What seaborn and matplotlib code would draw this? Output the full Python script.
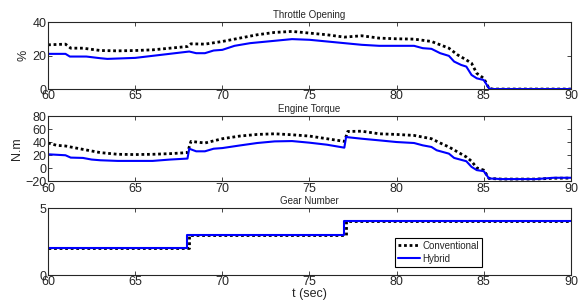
import numpy as np
import pandas as pd
import matplotlib
matplotlib.use("Agg")
import matplotlib.pyplot as plt
import seaborn as sns

# throttle opening (%)
thr_t_conv = [60, 61, 61.3, 62, 63, 64, 65, 66, 67, 68, 68.2, 69, 70, 71, 72, 73, 74, 75, 76, 77, 78,
              79, 80, 81, 82, 83, 83.5, 84, 84.3, 84.6, 85, 85.3, 85.5, 90]
thr_conv = [26.4, 26.8, 24.4, 24.4, 23, 22.8, 23, 23.4, 24.4, 25.4, 27, 26.8, 28.4, 30.4, 32.4, 33.8, 34.4,
            33.4, 32.4, 31, 31.8, 30.4, 30, 29.8, 28.4, 24.4, 20.4, 17.4, 15.4, 9.4, 6.4, 0.4, 0, 0]
thr_t_hyb = [60, 61, 61.25, 62.2, 63, 63.4, 65, 66.8, 68.1, 68.5, 69, 69.5, 70, 70.7, 71.6, 72.6, 73.6,
             74, 75, 76, 77, 78, 79, 80, 81, 81.5, 82, 82.5, 83, 83.3, 83.7, 84, 84.3, 84.6, 85, 85.3,
             85.5, 90]
thr_hyb = [21, 21, 19.4, 19.4, 18.4, 18, 18.6, 20.8, 22.4, 21.4, 21.4, 23, 23.4, 25.8, 27.4, 28.4, 29.4,
           29.8, 29.4, 28.4, 27.4, 26.4, 25.8, 25.8, 25.8, 24.4, 24, 21.4, 19.8, 16.4, 14.4, 13.4, 8.4,
           6.4, 5.4, 0.4, 0, 0]

# engine torque (N.m)
trq_t_conv = [60, 60.5, 61, 62, 63, 64, 65, 66, 67, 68, 68.2, 69, 70, 71, 72, 73, 74, 75, 76, 77,
              77.2, 78, 79, 80, 81, 82, 82.5, 83, 83.5, 84, 84.3, 84.6, 85, 85.3, 86, 88, 89, 90]
trq_conv = [38.8, 35.2, 34.2, 29, 24, 21.4, 21, 21.4, 22.4, 24, 41.3, 38.8, 45.4, 49.5, 52, 53, 51.5,
            49.5, 45.4, 41.3, 56.6, 57, 53, 52, 50.5, 45.4, 38.8, 32.7, 25, 17.3, 10.7, 0.5, -3, -15.8,
            -16.8, -16.8, -15.5, -15.3]
trq_t_hyb = [60, 61, 61.3, 62, 62.5, 63, 64, 65, 66, 67, 68, 68.1, 68.5, 69, 69.5, 70, 71, 72, 73, 74,
             75, 76, 77, 77.1, 78, 79, 80, 81, 81.5, 82, 82.3, 83, 83.3, 84, 84.3, 84.6, 85, 85.3, 86,
             88, 89, 90]
trq_hyb = [21.4, 19.9, 16.3, 15.8, 13.3, 12.2, 11.2, 11.2, 11.2, 13.3, 14.8, 30, 26, 26, 30, 31, 35,
           38.8, 41.3, 41.8, 39.3, 36.2, 31.6, 48, 45.4, 42.9, 40.3, 38.8, 35.2, 32.7, 27.6, 22.4, 15.8,
           10.7, 2, -3, -4.6, -15.8, -16.8, -16.8, -14.8, -14.8]

# gear number
gear_t_conv = [60, 68.1, 68.1, 77.1, 77.1, 90]
gear_conv = [2, 2, 3, 3, 4, 4]
gear_t_hyb = [60, 68, 68, 77, 77, 90]
gear_hyb = [2, 2, 3, 3, 4, 4]

sns.set_style("ticks")
plt.rcParams['font.family'] = ['Liberation Sans', 'DejaVu Sans']
plt.rcParams['font.size'] = 9

fig = plt.figure(figsize=(5.79, 3.06), dpi=100)
ax1 = fig.add_axes([0.083, 0.709, 0.903, 0.219])
ax2 = fig.add_axes([0.083, 0.408, 0.903, 0.212])
ax3 = fig.add_axes([0.083, 0.101, 0.903, 0.219])

conv_kw = dict(color='black', linestyle=(0, (1, 1)), linewidth=2, estimator=None, sort=False)
hyb_kw = dict(color=(0, 0, 1), linestyle='-', linewidth=1.5, estimator=None, sort=False)

sns.lineplot(x=thr_t_conv, y=thr_conv, ax=ax1, **conv_kw)
sns.lineplot(x=thr_t_hyb, y=thr_hyb, ax=ax1, **hyb_kw)
sns.lineplot(x=trq_t_conv, y=trq_conv, ax=ax2, **conv_kw)
sns.lineplot(x=trq_t_hyb, y=trq_hyb, ax=ax2, **hyb_kw)
sns.lineplot(x=gear_t_conv, y=gear_conv, ax=ax3, label='Conventional', **conv_kw)
sns.lineplot(x=gear_t_hyb, y=gear_hyb, ax=ax3, label='Hybrid', **hyb_kw)

ax1.set_ylim(0, 40)
ax1.set_yticks([0, 20, 40])
ax1.set_ylabel('%', labelpad=2)
ax1.set_title('Throttle Opening', fontsize=7, pad=3)

ax2.set_ylim(-20, 80)
ax2.set_yticks([-20, 0, 20, 40, 60, 80])
ax2.set_ylabel('N.m', labelpad=2)
ax2.set_title('Engine Torque', fontsize=7, pad=3)

ax3.set_ylim(0, 5)
ax3.set_yticks([0, 5])
ax3.set_title('Gear Number', fontsize=7, pad=3)
ax3.set_xlabel('t (sec)', labelpad=0)

for ax in (ax1, ax2, ax3):
    ax.set_xlim(60, 90)
    ax.set_xticks([60, 65, 70, 75, 80, 85, 90])
    ax.tick_params(direction='in', top=True, right=True, length=3, width=0.6, pad=1, labelsize=9)
    for s in ax.spines.values():
        s.set_linewidth(0.8)

leg = ax3.legend(loc='center left', bbox_to_anchor=(0.655, 0.34), fontsize=7, frameon=True,
                 fancybox=False, edgecolor='black', framealpha=1, handlelength=2.2,
                 handletextpad=0.3, borderpad=0.3, labelspacing=0.3)
leg.get_frame().set_linewidth(0.8)

fig.savefig('out.png', dpi=100)
